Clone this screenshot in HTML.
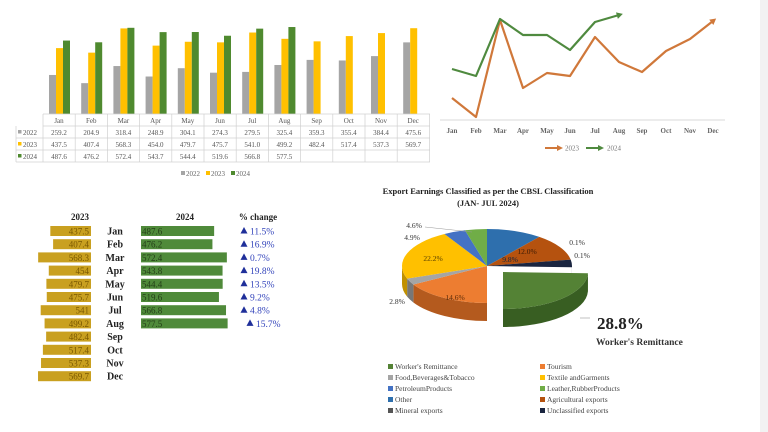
<!DOCTYPE html>
<html><head><meta charset="utf-8"><style>
html,body{margin:0;padding:0;background:#fff;}
body{width:768px;height:432px;overflow:hidden;position:relative;font-family:"Liberation Serif",serif;}
svg{position:absolute;left:0;top:0;}
</style></head><body>
<svg id="s" width="768" height="432" viewBox="0 0 768 432" xmlns="http://www.w3.org/2000/svg" font-family="Liberation Serif, serif">
<rect x="760" y="0" width="8" height="432" fill="#f2f2f2"/>
<g id="bars"></g>
<g id="tbl"></g>
<g id="line"></g>
<g id="left"></g>
<g id="pie"></g>
</svg>
<script>
(function(){
var NS="http://www.w3.org/2000/svg";
function el(p,t,a,txt){var e=document.createElementNS(NS,t);for(var k in a)e.setAttribute(k,a[k]);if(txt!==undefined)e.textContent=txt;document.getElementById(p).appendChild(e);return e;}
var M=["Jan","Feb","Mar","Apr","May","Jun","Jul","Aug","Sep","Oct","Nov","Dec"];
var d22=[259.2,204.9,318.4,248.9,304.1,274.3,279.5,325.4,359.3,355.4,384.4,475.6];
var d23=[437.5,407.4,568.3,454.0,479.7,475.7,541.0,499.2,482.4,517.4,537.3,569.7];
var d24=[487.6,476.2,572.4,543.7,544.4,519.6,566.8,577.5];
var cw=32.2,base=114,sc=0.1506;
for(var i=0;i<12;i++){var x0=43+i*cw;
 el("bars","rect",{x:x0+6,y:base-d22[i]*sc,width:7,height:d22[i]*sc,fill:"#a5a5a5"});
 el("bars","rect",{x:x0+13,y:base-d23[i]*sc,width:7,height:d23[i]*sc,fill:"#ffc000"});
 if(i<8)el("bars","rect",{x:x0+20,y:base-d24[i]*sc,width:7,height:d24[i]*sc,fill:"#4f8a2f"});
}
var L="#d0d0d0";
el("tbl","line",{x1:43,y1:114,x2:430,y2:114,stroke:L,"stroke-width":0.7});
for(var r=0;r<4;r++){el("tbl","line",{x1:(r==0?43:16),y1:126+r*12,x2:430,y2:126+r*12,stroke:L,"stroke-width":0.7});}
el("tbl","line",{x1:16,y1:126,x2:16,y2:162,stroke:L,"stroke-width":0.7});
for(var i=0;i<=12;i++){el("tbl","line",{x1:43+i*cw,y1:114,x2:43+i*cw,y2:162,stroke:L,"stroke-width":0.7});}
var rows=[["2022","#a5a5a5",d22],["2023","#ffc000",d23],["2024","#4f8a2f",d24]];
for(var i=0;i<12;i++){el("tbl","text",{x:43+i*cw+16,y:123,"font-size":7,fill:"#555","text-anchor":"middle"},M[i]);}
rows.forEach(function(r,j){var y=135+j*12;
 el("tbl","rect",{x:18,y:y-5,width:3.5,height:3.5,fill:r[1]});
 el("tbl","text",{x:23,y:y,"font-size":7,fill:"#555"},r[0]);
 r[2].forEach(function(v,i){el("tbl","text",{x:43+i*cw+16,y:y,"font-size":7,fill:"#555","text-anchor":"middle"},v.toFixed(1));});
});
[["2022","#a5a5a5",181],["2023","#ffc000",206],["2024","#4f8a2f",231]].forEach(function(l){
 el("tbl","rect",{x:l[2],y:171,width:4,height:4,fill:l[1]});
 el("tbl","text",{x:l[2]+5,y:176,"font-size":7,fill:"#666"},l[0]);});
var xs=[452,476,500,523,547,570,595,619,642,666,690,713];
var y23=[98,117,20,88,73,76,37,62,72,51,39,21];
var y24=[69,76,19,35,35,50,22,15];
el("line","line",{x1:440,y1:120,x2:725,y2:120,stroke:"#ccc","stroke-width":0.8});
function pl(ys,c){var p=ys.map(function(y,i){return xs[i]+","+y;}).join(" ");
 el("line","polyline",{points:p,fill:"none",stroke:c,"stroke-width":2.2,"stroke-linejoin":"round"});
 var n=ys.length-1,x=xs[n],y=ys[n],px=xs[n-1],py=ys[n-1],a=Math.atan2(y-py,x-px);
 var ax=x+4*Math.cos(a),ay=y+4*Math.sin(a);
 el("line","polygon",{points:ax+","+ay+" "+(ax-7*Math.cos(a-0.5))+","+(ay-7*Math.sin(a-0.5))+" "+(ax-7*Math.cos(a+0.5))+","+(ay-7*Math.sin(a+0.5)),fill:c});}
pl(y23,"#d0783a");pl(y24,"#4f8a3f");
xs.forEach(function(x,i){el("line","text",{x:x,y:133,"font-size":7,"font-weight":"bold",fill:"#666","text-anchor":"middle"},M[i]);});
el("line","line",{x1:545,y1:148,x2:559,y2:148,stroke:"#d0783a","stroke-width":2});
el("line","polygon",{points:"563,148 557,145 557,151",fill:"#d0783a"});
el("line","text",{x:565,y:150.5,"font-size":7,fill:"#777"},"2023");
el("line","line",{x1:586,y1:148,x2:600,y2:148,stroke:"#4f8a3f","stroke-width":2});
el("line","polygon",{points:"604,148 598,145 598,151",fill:"#4f8a3f"});
el("line","text",{x:607,y:150.5,"font-size":7,fill:"#777"},"2024");
el("left","text",{x:80,y:220,"font-size":9,"font-weight":"bold","text-anchor":"middle",fill:"#222"},"2023");
el("left","text",{x:185,y:220,"font-size":9,"font-weight":"bold","text-anchor":"middle",fill:"#222"},"2024");
el("left","text",{x:258,y:220,"font-size":9,"font-weight":"bold","text-anchor":"middle",fill:"#222"},"% change");
var l23=["437.5","407.4","568.3","454","479.7","475.7","541","499.2","482.4","517.4","537.3","569.7"];
var l24=["487.6","476.2","572.4","543.8","544.4","519.6","566.8","577.5"];
var pc=["11.5%","16.9%","0.7%","19.8%","13.5%","9.2%","4.8%","15.7%"];
for(var i=0;i<12;i++){var y=231+i*13.2,w=d23[i]*0.093;
 el("left","rect",{x:91-w,y:y-5,width:w,height:10,fill:"#c9a020"});
 el("left","text",{x:89,y:y+3.5,"font-size":9,fill:"#7a5800","text-anchor":"end"},l23[i]);
 el("left","text",{x:115,y:y+3.5,"font-size":10,"font-weight":"bold","text-anchor":"middle",fill:"#222"},M[i]);
 if(i<8){var w2=d24[i]*0.15;
  el("left","rect",{x:141,y:y-5,width:w2,height:10,fill:"#4f8a3a"});
  el("left","text",{x:142,y:y+3.5,"font-size":9,fill:"#243f18"},l24[i]);
  var tx=(i==7?250:244);
  el("left","polygon",{points:(tx)+","+(y-4)+" "+(tx-3.5)+","+(y+2.5)+" "+(tx+3.5)+","+(y+2.5),fill:"#1f2f9a"});
  el("left","text",{x:tx+6,y:y+3.5,"font-size":9.5,fill:"#3344bb"},pc[i]);}
}
el("pie","text",{x:488,y:194,"font-size":8.5,"font-weight":"bold","text-anchor":"middle",fill:"#222"},"Export Earnings Classified as per the CBSL Classification");
el("pie","text",{x:488,y:206,"font-size":8.5,"font-weight":"bold","text-anchor":"middle",fill:"#222"},"(JAN- JUL 2024)");
var cx=487,cy=266,rx=85,ry=37,D=18;
function P(t,ox,oy){var a=t*Math.PI/180;return [cx+(ox||0)+rx*Math.sin(a),cy+(oy||0)-ry*Math.cos(a)];}
function pieTop(a,b,c,ox,oy){var p=P(a,ox,oy),q=P(b,ox,oy);var lg=(b-a)>180?1:0;
 el("pie","path",{d:"M"+(cx+ox)+","+(cy+oy)+"L"+p[0]+","+p[1]+"A"+rx+","+ry+" 0 "+lg+" 1 "+q[0]+","+q[1]+"Z",fill:c});}
function side(a,b,c,ox,oy){a=Math.max(a,90);b=Math.min(b,270);if(b<=a)return;var p=P(a,ox,oy),q=P(b,ox,oy);
 el("pie","path",{d:"M"+p[0]+","+p[1]+"A"+rx+","+ry+" 0 0 1 "+q[0]+","+q[1]+"L"+q[0]+","+(q[1]+D)+"A"+rx+","+ry+" 0 0 0 "+p[0]+","+(p[1]+D)+"Z",fill:c});}
var S=[[0,38,"#2e6fad","#1f4e7a"],[38,80,"#b5520f","#7d3a0a"],[80,92,"#1a2540","#0f1628"],[180,240,"#ed7d31","#b45a1e"],[240,250,"#a5a5a5","#777"],[250,330,"#ffc000","#c09000"],[330,345,"#4472c4","#2f5597"],[345,360,"#70ad47","#4e7a31"]];
S.forEach(function(s){side(s[0],s[1],s[3],0,0);});
S.forEach(function(s){pieTop(s[0],s[1],s[2],0,0);});
var ox=16,oy=6,e=P(180,ox,oy);
el("pie","path",{d:"M"+(cx+ox)+","+(cy+oy)+"L"+(cx+ox)+","+(cy+oy+D)+"L"+e[0]+","+(e[1]+D)+"L"+e[0]+","+e[1]+"Z",fill:"#2f4f1c"});
side(92,180,"#385e22",ox,oy);
pieTop(92,180,"#548235",ox,oy);
function t(x,y,s,fs,extra){var a={x:x,y:y,"font-size":fs||8,fill:"#333","text-anchor":"middle"};for(var k in extra)a[k]=extra[k];el("pie","text",a,s);}
t(510,262,"9.8%",7.5,{fill:"#0e2240"});t(527,254,"12.0%",7.5,{fill:"#3a1a05"});
t(577,245,"0.1%",7.5);t(582,258,"0.1%",7.5);
t(433,261,"22.2%",7.5,{fill:"#5a4000"});t(455,300,"14.6%",7.5,{fill:"#5a2a08"});
t(397,304,"2.8%",7.5);t(412,240,"4.9%",7.5);t(414,228,"4.6%",7.5);
el("pie","line",{x1:425,y1:227,x2:472,y2:232,stroke:"#999","stroke-width":0.6});
el("pie","line",{x1:590,y1:318,x2:580,y2:318,stroke:"#999","stroke-width":0.6});
t(597,329,"28.8%",17,{"font-weight":"bold",fill:"#222","text-anchor":"start"});
t(596,345,"Worker's Remittance",9.5,{"font-weight":"bold",fill:"#333","text-anchor":"start"});
var LG=[["Worker's Remittance","#548235"],["Tourism","#ed7d31"],["Food,Beverages&Tobacco","#a5a5a5"],["Textile andGarments","#ffc000"],["PetroleumProducts","#4472c4"],["Leather,RubberProducts","#70ad47"],["Other","#2e6fad"],["Agricultural exports","#b5520f"],["Mineral exports","#555"],["Unclassified exports","#1a2540"]];
LG.forEach(function(l,i){var x=(i%2==0)?388:540,y=369+Math.floor(i/2)*11;
 el("pie","rect",{x:x,y:y-5,width:5,height:5,fill:l[1]});
 el("pie","text",{x:x+7,y:y,"font-size":7.5,fill:"#444"},l[0]);});
})();
</script>
</body></html>
